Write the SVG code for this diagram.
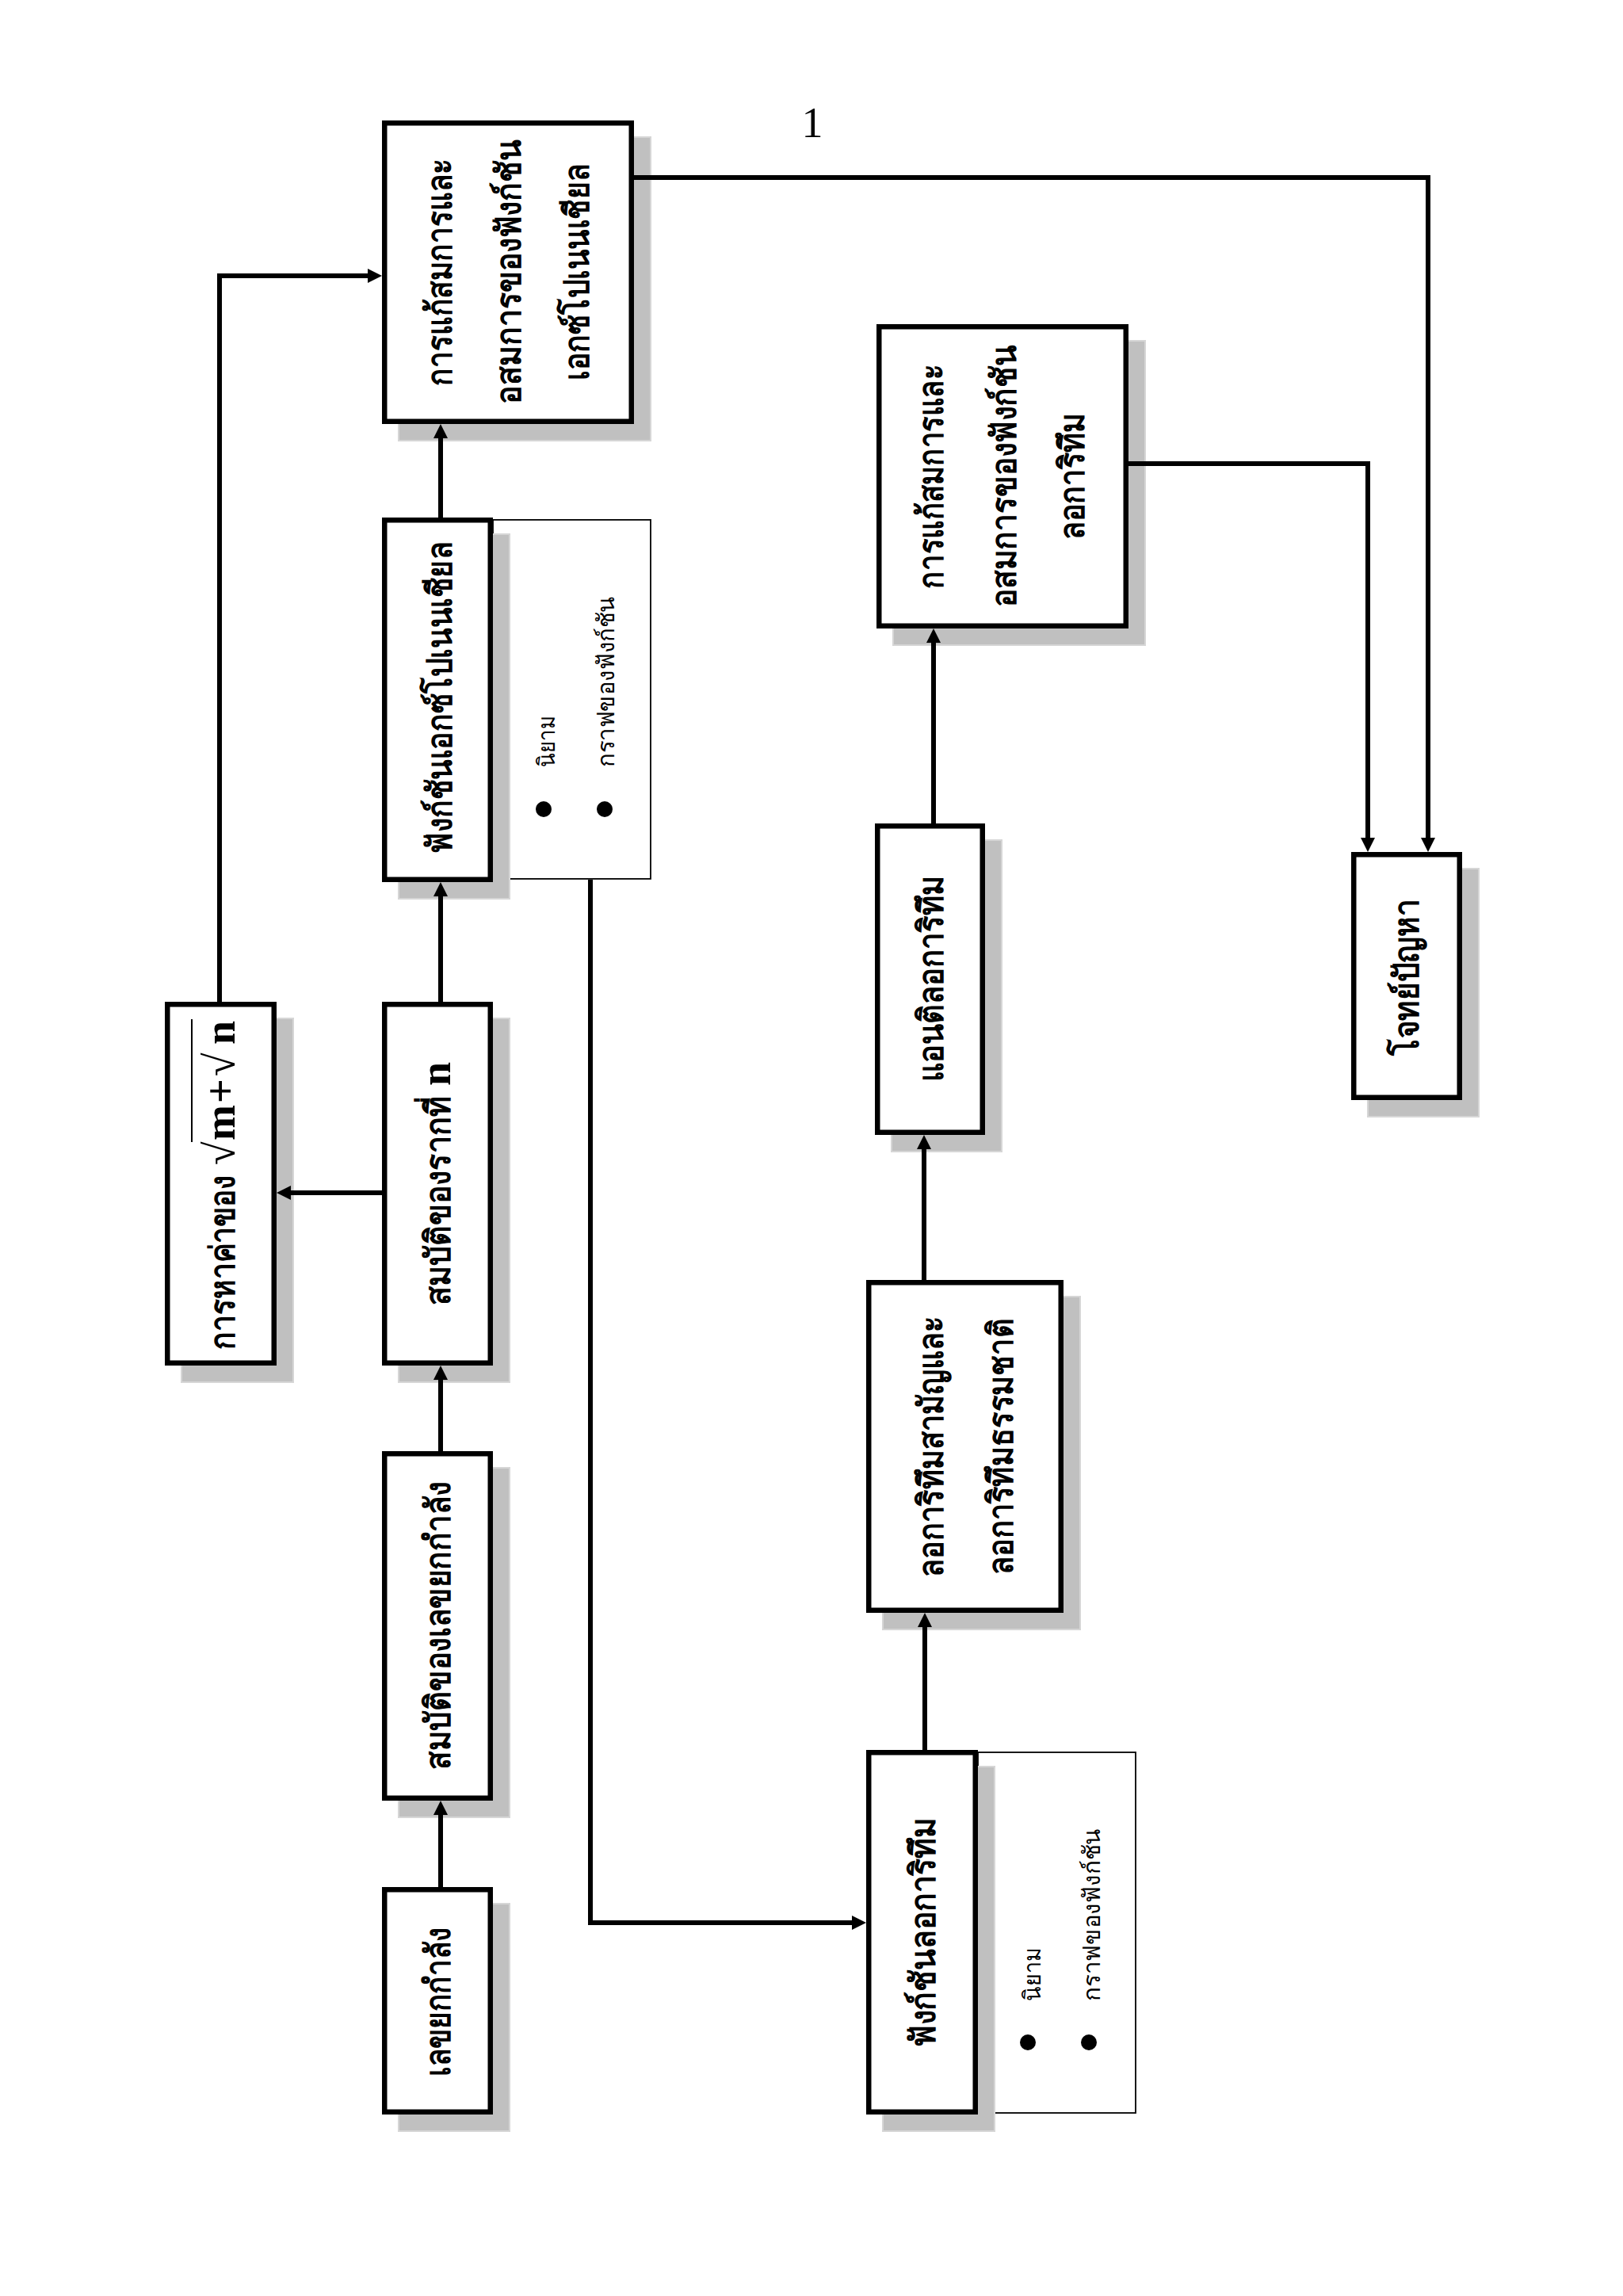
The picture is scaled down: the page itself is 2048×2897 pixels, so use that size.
<svg xmlns="http://www.w3.org/2000/svg" width="2048" height="2897" viewBox="0 0 2048 2897">
<defs>
<style>
.bg{fill:#ffffff}
.box{fill:#ffffff;stroke:#000;stroke-width:6.5}
.side{fill:#ffffff;stroke:#000;stroke-width:1.8}
.sh{fill:#c0c0c0;stroke:#d6d6d6;stroke-width:2}
.con{fill:none;stroke:#000;stroke-width:6;marker-end:url(#ah)}
.t{font-family:"Liberation Serif",serif;font-weight:bold;font-size:44px;fill:#000}
.s{font-family:"Liberation Serif",serif;font-weight:normal;font-size:30px;fill:#000}
.m{font-family:"Liberation Serif",serif;font-weight:bold;font-size:54px;fill:#000}
.r{font-family:"Liberation Serif",serif;font-weight:normal;font-size:54px;fill:#000}
</style>
<marker id="ah" viewBox="0 0 18 18" refX="0" refY="9" markerWidth="18" markerHeight="18" markerUnits="userSpaceOnUse" orient="auto">
<path d="M0,0 L18,9 L0,18 z" fill="#000"/>
</marker>
</defs>
<rect class="bg" x="0" y="0" width="2048" height="2897"/>
<text x="1025" y="173" class="r" text-anchor="middle">1</text>

<g id="n-solve-exp">
<rect class="sh" x="503" y="173" width="318" height="383"/>
<rect class="box" x="485.25" y="155.25" width="311.5" height="376.5"/>
<text class="t" transform="translate(570,343) rotate(-90)" text-anchor="middle" textLength="287" lengthAdjust="spacingAndGlyphs">การแก้สมการและ</text>
<text class="t" transform="translate(657,343) rotate(-90)" text-anchor="middle" textLength="333" lengthAdjust="spacingAndGlyphs">อสมการของฟังก์ชัน</text>
<text class="t" transform="translate(743,343) rotate(-90)" text-anchor="middle" textLength="273" lengthAdjust="spacingAndGlyphs">เอกซ์โปเนนเชียล</text>
</g>

<g id="n-exp-fn">
<rect class="side" x="622" y="655.9" width="199" height="453"/>
<rect class="sh" x="503" y="674" width="140" height="460"/>
<rect class="box" x="485.25" y="656.25" width="133.5" height="453.5"/>
<text class="t" transform="translate(570,880) rotate(-90)" text-anchor="middle" textLength="393" lengthAdjust="spacingAndGlyphs">ฟังก์ชันเอกซ์โปเนนเชียล</text>
<circle cx="686" cy="1021" r="10" fill="#000"/>
<circle cx="763" cy="1021" r="10" fill="#000"/>
<text class="s" transform="translate(700,968) rotate(-90)" textLength="65" lengthAdjust="spacingAndGlyphs">นิยาม</text>
<text class="s" transform="translate(775,968) rotate(-90)" textLength="216" lengthAdjust="spacingAndGlyphs">กราฟของฟังก์ชัน</text>
</g>

<g id="n-root-props">
<rect class="sh" x="503" y="1285" width="140" height="459"/>
<rect class="box" x="485.25" y="1267.25" width="133.5" height="452.5"/>
<g transform="translate(568,1647) rotate(-90)">
<text class="t" x="0" y="0" textLength="264" lengthAdjust="spacingAndGlyphs">สมบัติของรากที่</text>
<text class="m" x="277" y="0">n</text>
</g>
</g>

<g id="n-sqrt">
<rect class="sh" x="229" y="1285" width="141" height="459"/>
<rect class="box" x="211.25" y="1267.25" width="134.5" height="452.5"/>
<g transform="translate(296,1703) rotate(-90)">
<text class="t" x="0" y="0" textLength="220" lengthAdjust="spacingAndGlyphs">การหาค่าของ</text>
<text class="r" x="233" y="0">√</text>
<text class="m" x="264" y="0">m</text>
<text class="m" x="311" y="0">+</text>
<text class="r" x="345" y="0">√</text>
<text class="m" x="385" y="0">n</text>
<line x1="262" y1="-54" x2="417" y2="-54" stroke="#000" stroke-width="2"/>
</g>
</g>

<g id="n-power-props">
<rect class="sh" x="503" y="1852" width="140" height="441"/>
<rect class="box" x="485.25" y="1834.25" width="133.5" height="434.5"/>
<text class="t" transform="translate(568,2051) rotate(-90)" text-anchor="middle" textLength="363" lengthAdjust="spacingAndGlyphs">สมบัติของเลขยกกำลัง</text>
</g>

<g id="n-power">
<rect class="sh" x="503" y="2402" width="140" height="287"/>
<rect class="box" x="485.25" y="2384.25" width="133.5" height="280.5"/>
<text class="t" transform="translate(568,2526) rotate(-90)" text-anchor="middle" textLength="188" lengthAdjust="spacingAndGlyphs">เลขยกกำลัง</text>
</g>

<g id="n-log-fn">
<rect class="side" x="1234" y="2211" width="199" height="455"/>
<rect class="sh" x="1114" y="2229" width="141" height="460"/>
<rect class="box" x="1096.25" y="2211.25" width="134.5" height="453.5"/>
<text class="t" transform="translate(1180,2438) rotate(-90)" text-anchor="middle" textLength="290" lengthAdjust="spacingAndGlyphs">ฟังก์ชันลอการิทึม</text>
<circle cx="1297" cy="2577" r="10" fill="#000"/>
<circle cx="1374" cy="2577" r="10" fill="#000"/>
<text class="s" transform="translate(1313,2525) rotate(-90)" textLength="68" lengthAdjust="spacingAndGlyphs">นิยาม</text>
<text class="s" transform="translate(1388,2525) rotate(-90)" textLength="218" lengthAdjust="spacingAndGlyphs">กราฟของฟังก์ชัน</text>
</g>

<g id="n-log-common">
<rect class="sh" x="1114" y="1636" width="249" height="420"/>
<rect class="box" x="1096.25" y="1618.25" width="242.5" height="413.5"/>
<text class="t" transform="translate(1190,1825) rotate(-90)" text-anchor="middle" textLength="330" lengthAdjust="spacingAndGlyphs">ลอการิทึมสามัญและ</text>
<text class="t" transform="translate(1278,1825) rotate(-90)" text-anchor="middle" textLength="324" lengthAdjust="spacingAndGlyphs">ลอการิทึมธรรมชาติ</text>
</g>

<g id="n-antilog">
<rect class="sh" x="1125" y="1060" width="139" height="393"/>
<rect class="box" x="1107.25" y="1042.25" width="132.5" height="386.5"/>
<text class="t" transform="translate(1190,1235) rotate(-90)" text-anchor="middle" textLength="260" lengthAdjust="spacingAndGlyphs">แอนติลอการิทึม</text>
</g>

<g id="n-solve-log">
<rect class="sh" x="1127" y="430" width="318" height="384"/>
<rect class="box" x="1109.25" y="412.25" width="311.5" height="377.5"/>
<text class="t" transform="translate(1190,601) rotate(-90)" text-anchor="middle" textLength="283" lengthAdjust="spacingAndGlyphs">การแก้สมการและ</text>
<text class="t" transform="translate(1282,601) rotate(-90)" text-anchor="middle" textLength="330" lengthAdjust="spacingAndGlyphs">อสมการของฟังก์ชัน</text>
<text class="t" transform="translate(1368,601) rotate(-90)" text-anchor="middle" textLength="160" lengthAdjust="spacingAndGlyphs">ลอการิทึม</text>
</g>

<g id="n-problems">
<rect class="sh" x="1726" y="1096" width="140" height="313"/>
<rect class="box" x="1708.25" y="1078.25" width="133.5" height="306.5"/>
<text class="t" transform="translate(1790,1233) rotate(-90)" text-anchor="middle" textLength="197" lengthAdjust="spacingAndGlyphs">โจทย์ปัญหา</text>
</g>

<g id="connectors">
<path class="con" d="M556,2381 V2290"/>
<path class="con" d="M556,1831 V1741"/>
<path class="con" d="M556,1264 V1131"/>
<path class="con" d="M556,653 V553"/>
<path class="con" d="M482,1505 H367"/>
<path class="con" d="M277,1264 V348 H464"/>
<path class="con" d="M800,224 H1802 V1057"/>
<path class="con" d="M745,1110 V2426 H1075"/>
<path class="con" d="M1167,2208 V2053"/>
<path class="con" d="M1166,1615 V1450"/>
<path class="con" d="M1178,1039 V811"/>
<path class="con" d="M1424,585 H1726 V1057"/>
</g>
</svg>
